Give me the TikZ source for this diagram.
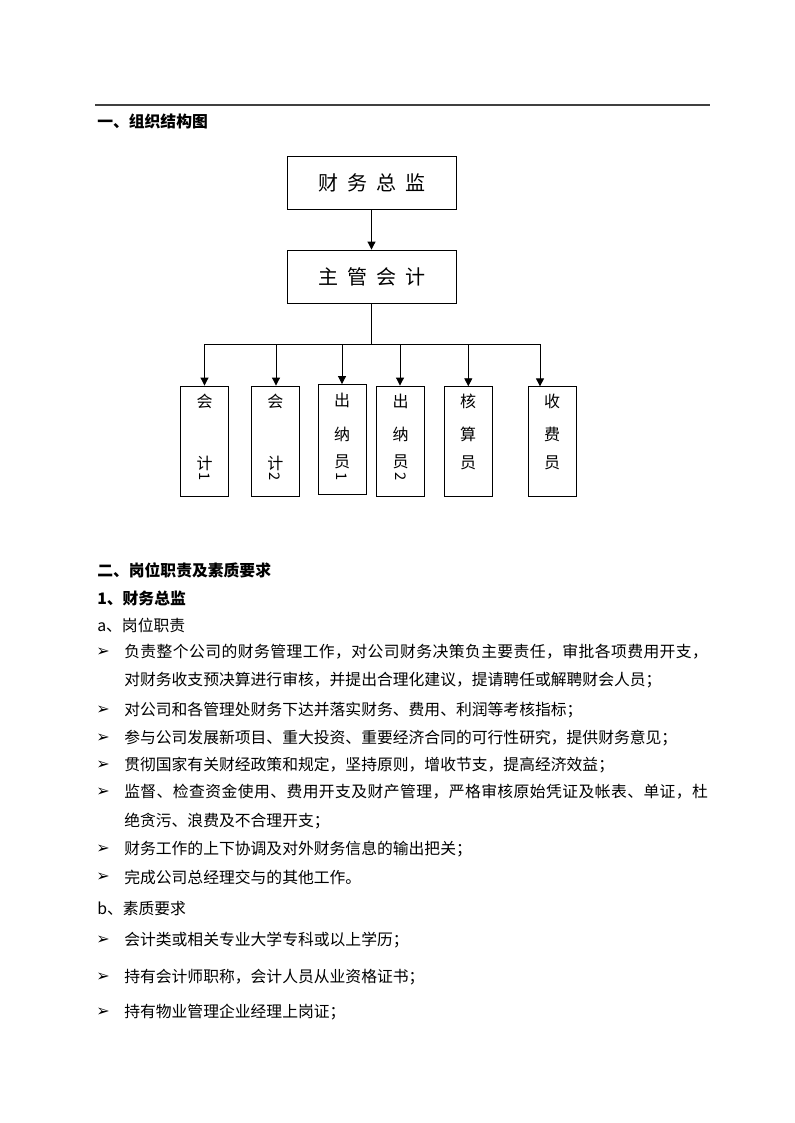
\documentclass[tikz,border=0pt]{standalone}
\usepackage{fontspec}
\setmainfont{Noto Sans CJK SC}
\newfontfamily\symfont{DejaVu Sans}[BoldFont={DejaVu Sans Bold}]
\usetikzlibrary{arrows.meta}
\tikzset{
  bigbox/.style={draw, line width=0.65pt, inner sep=0, minimum width={169*0.75pt}, minimum height={53*0.75pt}, font=\fontsize{15pt}{16pt}\selectfont},
  smallbox/.style={draw, line width=0.65pt, inner sep=0, minimum width={47.6*0.75pt}, minimum height={110*0.75pt}},
  vch/.style={inner sep=0, font=\fontsize{12pt}{13pt}\selectfont},
  vdig/.style={inner sep=0, rotate=-90, font=\fontsize{11pt}{12pt}\selectfont},
  txt/.style={anchor=west, inner sep=0, font=\fontsize{11.85pt}{14pt}\selectfont},
  head/.style={anchor=west, inner sep=0, font=\fontsize{11.85pt}{14pt}\selectfont\bfseries},
  blt/.style={anchor=west, inner sep=0, font=\symfont\bfseries\fontsize{12pt}{12pt}\selectfont},
  conn/.style={line width=0.7pt},
  arr/.style={line width=0.7pt, -{Triangle[width=6pt,length=6pt]}},
  rule/.style={line width=0.9pt, black!75}
}
\newcommand{\gap}{\hspace{6.75pt}}
\newcommand{\jst}{\addfontfeature{LetterSpace=2.7}}
\begin{document}
\begin{tikzpicture}[x=0.75pt,y=-0.75pt]
\fill[white] (0,0) rectangle (794,1123);
\useasboundingbox (0,0) rectangle (794,1123);

% rule and title
\coordinate (r1) at (95,105);
\coordinate (r2) at (710,105);
\draw[rule] (r1) -- (r2);
\node[head] (t1) at (97,121) {一、组织结构图};

% top boxes
\node[bigbox] (fd) at (371.5,182.5) {财\gap 务\gap 总\gap 监};
\node[bigbox] (zg) at (371.5,276.5) {主\gap 管\gap 会\gap 计};
\draw[arr] (fd.south) -- (zg.north);

% small boxes
\node[smallbox] (s1) at (204.5,441) {};
\node[smallbox] (s2) at (275.3,441) {};
\node[smallbox] (s3) at (342.2,439.5) {};
\node[smallbox] (s4) at (400.5,441) {};
\node[smallbox] (s5) at (468.2,441.7) {};
\node[smallbox] (s6) at (552.2,441.8) {};

% distribution line
\coordinate (h1) at (204.5,344);
\coordinate (h2) at (276,344);
\coordinate (h3) at (342,344);
\coordinate (h4) at (400,344);
\coordinate (h5) at (468.3,344);
\coordinate (h6) at (540,344);
\draw[conn] (zg.south) -- (zg.south |- h1);
\draw[conn] (h1) -- (h6);
\draw[arr] (h1) -- (h1 |- s1.north);
\draw[arr] (h2) -- (h2 |- s2.north);
\draw[arr] (h3) -- (h3 |- s3.north);
\draw[arr] (h4) -- (h4 |- s4.north);
\draw[arr] (h5) -- (h5 |- s5.north);
\draw[arr] (h6) -- (h6 |- s6.north);

% box texts
\node[vch] (a1) at (204.5,401) {会};
\node[vch] (a2) at (204.5,463) {计};
\node[vdig] (a3) at (204.5,477) {1};
\node[vch] (b1) at (275.3,401) {会};
\node[vch] (b2) at (275.3,463) {计};
\node[vdig] (b3) at (275.3,477) {2};
\node[vch] (c1) at (342.2,400) {出};
\node[vch] (c2) at (342.2,434) {纳};
\node[vch] (c3) at (342.2,462) {员};
\node[vdig] (c4) at (342.2,477) {1};
\node[vch] (d1) at (400.5,401) {出};
\node[vch] (d2) at (400.5,434) {纳};
\node[vch] (d3) at (400.5,462) {员};
\node[vdig] (d4) at (400.5,477) {2};
\node[vch] (e1) at (468.2,401) {核};
\node[vch] (e2) at (468.2,434) {算};
\node[vch] (e3) at (468.2,463) {员};
\node[vch] (f1) at (552.2,401) {收};
\node[vch] (f2) at (552.2,434) {费};
\node[vch] (f3) at (552.2,463) {员};

% section 2
\node[head] (t2) at (97,570) {二、岗位职责及素质要求};
\node[head] (t3) at (97,598) {1、财务总监};
\node[txt] (t4) at (97,625) {a、岗位职责};

\node[blt] (k1) at (96,652) {➢};
\node[txt] (l1) at (124,652) {\jst 负责整个公司的财务管理工作，对公司财务决策负主要责任，审批各项费用开支，};
\node[txt] (l1c) at (124,680) {对财务收支预决算进行审核，并提出合理化建议，提请聘任或解聘财会人员；};
\node[blt] (k2) at (96,710) {➢};
\node[txt] (l2) at (124,710) {对公司和各管理处财务下达并落实财务、费用、利润等考核指标；};
\node[blt] (k3) at (96,738) {➢};
\node[txt] (l3) at (124,738) {参与公司发展新项目、重大投资、重要经济合同的可行性研究，提供财务意见；};
\node[blt] (k4) at (96,765) {➢};
\node[txt] (l4) at (124,765) {贯彻国家有关财经政策和规定，坚持原则，增收节支，提高经济效益；};
\node[blt] (k5) at (96,792) {➢};
\node[txt] (l5) at (124,792) {\jst 监督、检查资金使用、费用开支及财产管理，严格审核原始凭证及帐表、单证，杜};
\node[txt] (l5c) at (124,821) {绝贪污、浪费及不合理开支；};
\node[blt] (k6) at (96,849) {➢};
\node[txt] (l6) at (124,849) {财务工作的上下协调及对外财务信息的输出把关；};
\node[blt] (k7) at (96,877) {➢};
\node[txt] (l7) at (124,877) {完成公司总经理交与的其他工作。};

\node[txt] (t5) at (97,908) {b、素质要求};
\node[blt] (m1) at (96,940) {➢};
\node[txt] (n1) at (124,940) {会计类或相关专业大学专科或以上学历；};
\node[blt] (m2) at (96,977) {➢};
\node[txt] (n2) at (124,977) {持有会计师职称，会计人员从业资格证书；};
\node[blt] (m3) at (96,1012) {➢};
\node[txt] (n3) at (124,1012) {持有物业管理企业经理上岗证；};
\end{tikzpicture}
\end{document}
